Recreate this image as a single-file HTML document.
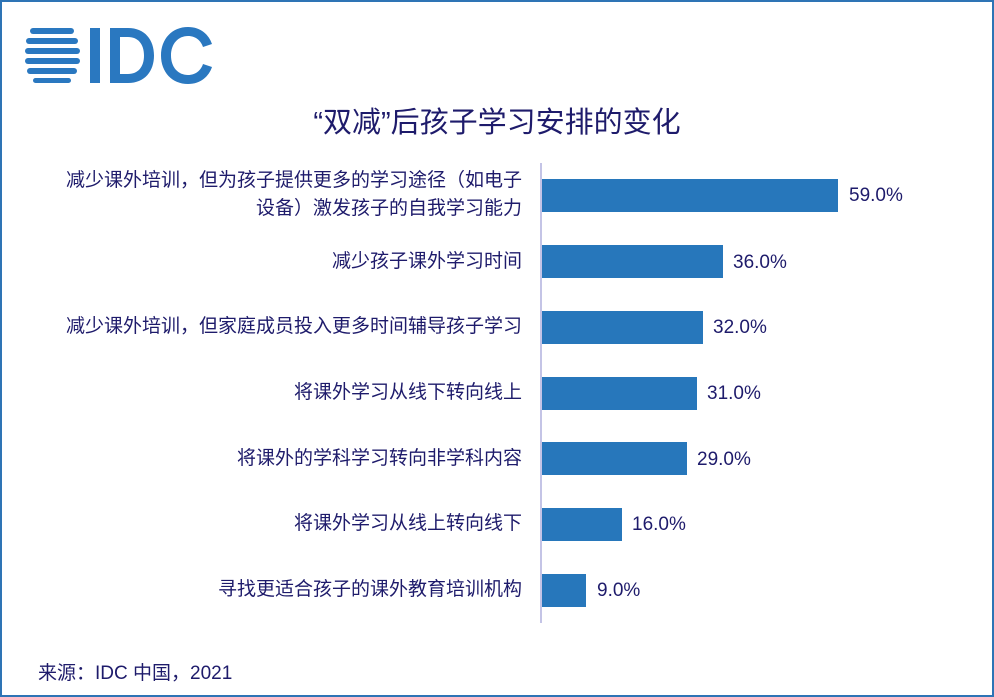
<!DOCTYPE html>
<html><head><meta charset="utf-8"><style>
body{margin:0;width:994px;height:697px;background:#fff;position:relative;overflow:hidden;font-family:"Liberation Sans","Noto Sans CJK SC",sans-serif;color:#1e1b6b}
.frame{position:absolute;left:0;top:0;width:990px;height:693px;border:2px solid #2e74b5}
.t{position:absolute;white-space:nowrap}
.lab{position:absolute;right:472px;font-size:19px;text-align:right;line-height:28px;white-space:nowrap}
.bar{position:absolute;left:542px;height:33px;background:#2777bb}
.val{position:absolute;font-size:19px}
</style></head><body>
<div class="frame"></div>
<svg style="position:absolute;left:24px;top:26px" width="190" height="60">
<g fill="#2a78c0">
<rect x="6" y="2" width="44" height="6" rx="3"/>
<rect x="2" y="12" width="52" height="6" rx="3"/>
<rect x="1" y="22" width="55" height="6" rx="3"/>
<rect x="1" y="32" width="55" height="6" rx="3"/>
<rect x="3" y="42" width="50" height="6" rx="3"/>
<rect x="9" y="52" width="38" height="5" rx="2.5"/>
<rect x="66" y="2" width="10" height="55"/>
<path d="M86 2h18c17 0 26 12 26 27.5S121 57 104 57H86zM96 11v37h8c10 0 16-7 16-18.5S114 11 104 11z"/>
<path d="M188 18c-3-9-11-17-24-17-16 0-27 12-27 28.5S148 58 164 58c13 0 21-8 24-17l-9-3c-2 6-7 11-15 11-10 0-17-8-17-19.5S154 10 164 10c8 0 13 5 15 11z"/>
</g></svg>
<div class="t" style="left:0;width:994px;text-align:center;top:99px;font-size:29px">“双减”后孩子学习安排的变化</div>
<div style="position:absolute;left:540px;top:163px;width:2px;height:460px;background:#c4c4e6"></div>
<div class="lab" style="top:167px">减少课外培训，但为孩子提供更多的学习途径（如电子<br>设备）激发孩子的自我学习能力</div>
<div class="lab" style="top:248px">减少孩子课外学习时间</div>
<div class="lab" style="top:313px">减少课外培训，但家庭成员投入更多时间辅导孩子学习</div>
<div class="lab" style="top:379px">将课外学习从线下转向线上</div>
<div class="lab" style="top:445px">将课外的学科学习转向非学科内容</div>
<div class="lab" style="top:510px">将课外学习从线上转向线下</div>
<div class="lab" style="top:576px">寻找更适合孩子的课外教育培训机构</div>
<div class="bar" style="top:179px;width:296px"></div>
<div class="bar" style="top:245px;width:181px"></div>
<div class="bar" style="top:311px;width:161px"></div>
<div class="bar" style="top:377px;width:155px"></div>
<div class="bar" style="top:442px;width:145px"></div>
<div class="bar" style="top:508px;width:80px"></div>
<div class="bar" style="top:574px;width:44px"></div>
<div class="val" style="left:849px;top:185px">59.0%</div>
<div class="val" style="left:733px;top:252px">36.0%</div>
<div class="val" style="left:713px;top:317px">32.0%</div>
<div class="val" style="left:707px;top:383px">31.0%</div>
<div class="val" style="left:697px;top:449px">29.0%</div>
<div class="val" style="left:632px;top:514px">16.0%</div>
<div class="val" style="left:597px;top:580px">9.0%</div>
<div class="t" style="left:38px;top:658px;font-size:19px">来源：IDC 中国，2021</div>
</body></html>
